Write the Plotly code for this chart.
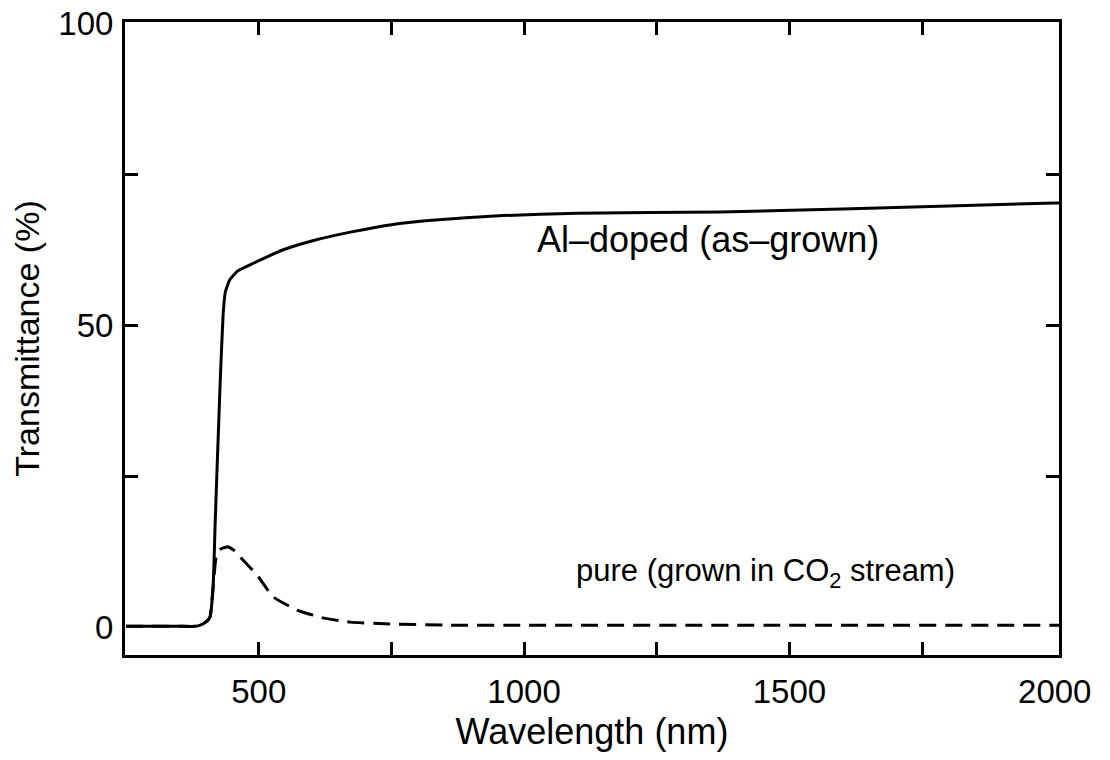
import plotly.graph_objects as go

# Al-doped (as-grown) transmittance, solid line
al_wavelength = [250, 300, 350, 380, 390, 400, 408, 414, 418, 423, 428, 433, 437, 445, 460,
                 490, 545, 600, 675, 750, 820, 960, 1100, 1370, 1600, 1800, 2000, 2008]
al_transmittance = [0.1, 0.1, 0.1, 0.1, 0.3, 0.8, 1.6, 6.6, 17.5, 30.0, 42.0, 52.0, 55.5, 57.5, 59.0,
                    60.3, 62.5, 64.0, 65.5, 66.7, 67.4, 68.2, 68.6, 68.8, 69.3, 69.8, 70.3, 70.3]

# pure (grown in CO2 stream) transmittance, dashed line
pure_wavelength = [250, 300, 350, 380, 390, 400, 408, 414, 421, 430, 442, 455, 465, 480, 497,
                   527, 572, 621, 672, 747, 860, 1000, 1500, 2000, 2008]
pure_transmittance = [0.1, 0.1, 0.1, 0.1, 0.3, 0.8, 1.6, 6.6, 12.3, 13.0, 13.3, 12.6, 11.6, 10.2, 8.6,
                      5.0, 2.8, 1.5, 0.8, 0.5, 0.3, 0.3, 0.3, 0.3, 0.3]

x_label_vals = [500, 1000, 1500, 2000]
x_tick_vals = [500, 750, 1000, 1250, 1500, 1750]
y_label_vals = [0, 50, 100]
y_tick_vals = [25, 50, 75]

x_range = [248, 2008]
y_range = [-4.65, 100.3]

FONT = "Liberation Sans, Arial, Helvetica, sans-serif"

fig = go.Figure()
fig.add_trace(go.Scatter(x=al_wavelength, y=al_transmittance, mode="lines",
                         line=dict(color="black", width=3, shape="spline", smoothing=0.4),
                         showlegend=False, hoverinfo="skip"))
fig.add_trace(go.Scatter(x=pure_wavelength, y=pure_transmittance, mode="lines",
                         line=dict(color="black", width=3, dash="17px,9px", shape="spline", smoothing=0.4),
                         showlegend=False, hoverinfo="skip"))
# empty trace to realise the mirrored top/right tick axes
fig.add_trace(go.Scatter(x=[None], y=[None], xaxis="x2", yaxis="y2", showlegend=False, hoverinfo="skip"))

tick_style = dict(ticks="inside", ticklen=13, tickwidth=3, tickcolor="black")

fig.update_layout(
    width=1094, height=744,
    margin=dict(l=117, r=43, t=14, b=97, autoexpand=False),
    paper_bgcolor="white", plot_bgcolor="white",
    font=dict(family=FONT, size=33, color="black"),
    xaxis=dict(range=x_range, tickmode="array", tickvals=x_label_vals,
               ticktext=[str(v) for v in x_label_vals], ticks="", showgrid=False, zeroline=False,
               showline=True, linewidth=3, linecolor="black", mirror=True,
               ticklabelstandoff=5, automargin=False, ticklabeloverflow="allow",
               minor=dict(tickmode="array", tickvals=x_tick_vals, showgrid=False, **tick_style),
               title=dict(text="Wavelength (nm)", font=dict(size=36), standoff=15)),
    yaxis=dict(range=y_range, tickmode="array", tickvals=y_label_vals,
               ticktext=[str(v) for v in y_label_vals], ticks="", showgrid=False, zeroline=False,
               showline=True, linewidth=3, linecolor="black", mirror=True,
               ticklabelstandoff=2, automargin=False, ticklabeloverflow="allow",
               minor=dict(tickmode="array", tickvals=y_tick_vals, showgrid=False, **tick_style),
               title=dict(text="Transmittance (%)", font=dict(size=34), standoff=26)),
    xaxis2=dict(range=x_range, overlaying="x", side="top", anchor="y2", tickmode="array",
                tickvals=x_tick_vals, showticklabels=False, showgrid=False, zeroline=False,
                showline=False, automargin=False, **tick_style),
    yaxis2=dict(range=y_range, overlaying="y", side="right", anchor="x2", tickmode="array",
                tickvals=y_tick_vals, showticklabels=False, showgrid=False, zeroline=False,
                showline=False, automargin=False, **tick_style),
    annotations=[
        dict(x=1346, y=64.2, xref="x", yref="y", text="Al\u2013doped (as\u2013grown)",
             showarrow=False, font=dict(size=36)),
        dict(x=1454, y=9.0, xref="x", yref="y", text="pure (grown in CO<sub>2</sub> stream)",
             showarrow=False, font=dict(size=31)),
    ],
)

fig.write_html("out.html")
